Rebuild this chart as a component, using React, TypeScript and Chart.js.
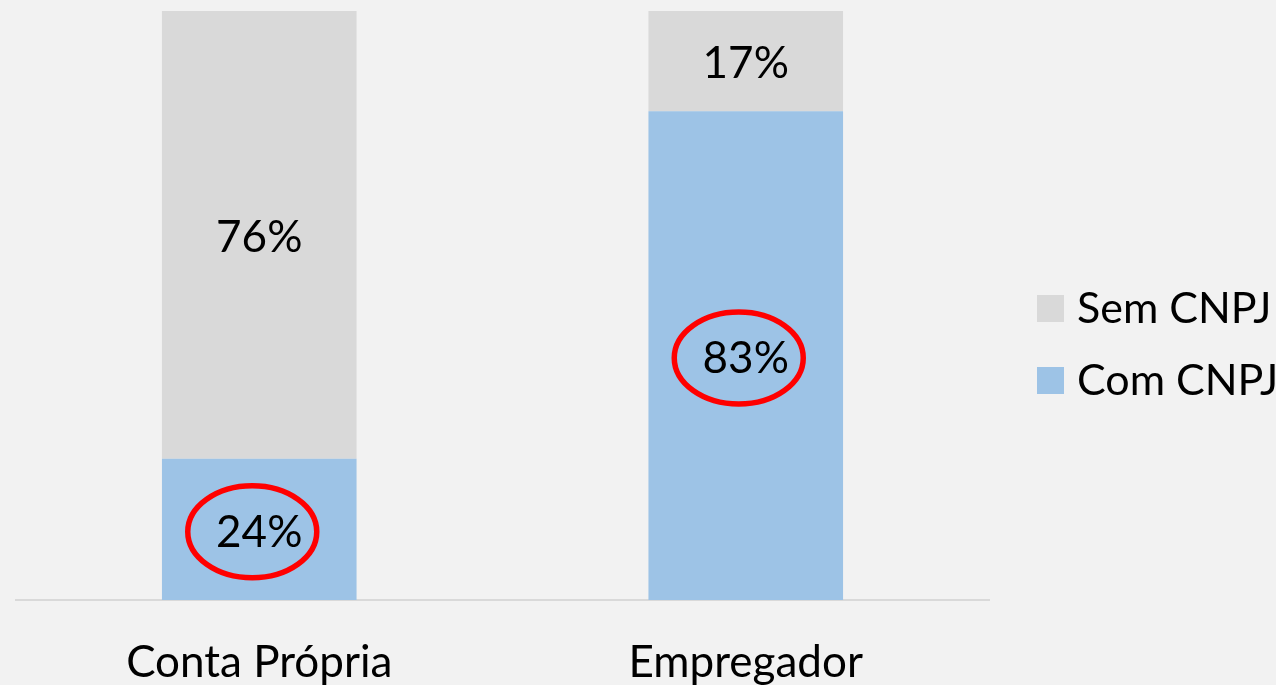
import React, { useEffect, useRef } from "react";
import { Chart, registerables } from "chart.js";

Chart.register(...registerables);

const categories = ["Conta Própria", "Empregador"];
const comCnpj = [24, 83];
const semCnpj = [76, 17];
const seriesNames = ["Com CNPJ", "Sem CNPJ"];
const seriesColors = ["#9dc3e6", "#d9d9d9"];
const highlightedSeries = 0;

const FONT = "Lato";

const valueLabelPlugin = {
  id: "valueLabels",
  afterDatasetsDraw(chart: any) {
    const ctx = chart.ctx;
    ctx.save();
    ctx.font = `44px ${FONT}`;
    ctx.fillStyle = "#000000";
    ctx.textAlign = "center";
    ctx.textBaseline = "middle";
    chart.data.datasets.forEach((ds: any, di: number) => {
      const meta = chart.getDatasetMeta(di);
      meta.data.forEach((bar: any, i: number) => {
        const cy = (bar.y + bar.base) / 2 + 3;
        ctx.fillText(`${ds.data[i]}%`, bar.x, cy);
      });
    });
    // highlight ellipses
    const meta = chart.getDatasetMeta(highlightedSeries);
    ctx.strokeStyle = "#ff0000";
    ctx.lineWidth = 5.5;
    meta.data.forEach((bar: any) => {
      const cx = bar.x - 7;
      const cy = (bar.y + bar.base) / 2 + 2.5;
      ctx.beginPath();
      ctx.ellipse(cx, cy, 64.5, 46, 0, 0, Math.PI * 2);
      ctx.stroke();
    });
    ctx.restore();
  },
};

const customLegendPlugin = {
  id: "customLegend",
  afterDraw(chart: any) {
    const ctx = chart.ctx;
    const area = chart.chartArea;
    const boxX = area.right + 48;
    const textX = boxX + 40;
    const midY = chart.height / 2 + 2;
    const spacing = 72;
    const items = chart.data.datasets.map((d: any) => d).reverse();
    ctx.save();
    ctx.font = `43px ${FONT}`;
    ctx.textAlign = "left";
    ctx.textBaseline = "middle";
    items.forEach((ds: any, k: number) => {
      const cy = midY - spacing / 2 + k * spacing;
      ctx.fillStyle = ds.backgroundColor;
      ctx.fillRect(boxX, cy - 13.5, 27, 27);
      ctx.fillStyle = "#000000";
      ctx.fillText(ds.label, textX, cy + 1);
    });
    ctx.restore();
  },
};

export default function App() {
  const canvasRef = useRef<HTMLCanvasElement | null>(null);

  useEffect(() => {
    if (!canvasRef.current) return;
    const chart = new Chart(canvasRef.current, {
      type: "bar",
      data: {
        labels: categories,
        datasets: [
          {
            label: seriesNames[0],
            data: comCnpj,
            backgroundColor: seriesColors[0],
            borderWidth: 0,
          },
          {
            label: seriesNames[1],
            data: semCnpj,
            backgroundColor: seriesColors[1],
            borderWidth: 0,
          },
        ],
      },
      options: {
        animation: false,
        responsive: false,
        maintainAspectRatio: false,
        layout: { padding: { left: 16, right: 287, top: 11, bottom: 0 } },
        datasets: {
          bar: { categoryPercentage: 1, barPercentage: 0.4 },
        },
        plugins: {
          legend: { display: false },
          tooltip: { enabled: false },
        },
        scales: {
          x: {
            stacked: true,
            grid: { display: false, drawTicks: false },
            border: { display: true, color: "#d9d9d9", width: 2 },
            ticks: {
              color: "#000000",
              font: { family: FONT, size: 44 },
              padding: 36,
              maxRotation: 0,
            },
            afterFit: (scale: any) => {
              scale.height = 85;
            },
          },
          y: {
            stacked: true,
            display: false,
            min: 0,
            max: 100,
          },
        },
      },
      plugins: [valueLabelPlugin, customLegendPlugin],
    });
    return () => chart.destroy();
  }, []);

  return (
    <div
      style={{
        position: "fixed",
        left: 0,
        top: 0,
        width: 1276,
        height: 685,
        background: "#f2f2f2",
      }}
    >
      <canvas ref={canvasRef} width={1276} height={685} />
    </div>
  );
}
